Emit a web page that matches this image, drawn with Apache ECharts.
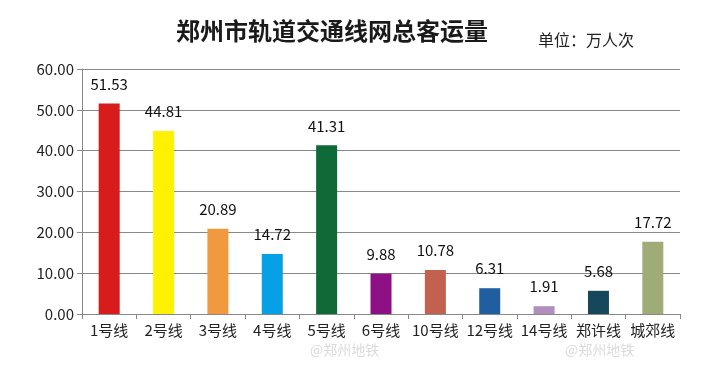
<!DOCTYPE html>
<html><head><meta charset="utf-8">
<script src="https://cdn.jsdelivr.net/npm/echarts@6/dist/echarts.min.js"></script>
<style>html,body{margin:0;padding:0;background:#fff}#c{width:703px;height:370px}</style>
</head><body><div id="c"></div>
<script>
var categories = ['1号线','2号线','3号线','4号线','5号线','6号线','10号线','12号线','14号线','郑许线','城郊线'];
var values = [51.53, 44.81, 20.89, 14.72, 41.31, 9.88, 10.78, 6.31, 1.91, 5.68, 17.72];
var colors = ['#D81B1B','#FFF200','#F0993E','#06A0E6','#0F6A38','#8D1185','#C2614F','#1F5EA0','#B18EBE','#17475A','#A0AC77'];
var yTicks = [0, 10, 20, 30, 40, 50, 60];

var chart = echarts.init(document.getElementById('c'), null, {renderer:'canvas'});
var font = '"Noto Sans CJK SC", "Noto Sans", sans-serif';
chart.setOption({
  animation: false,
  backgroundColor: '#fff',
  title: {
    text: '郑州市轨道交通线网总客运量',
    left: 327, top: 14, textAlign: 'center',
    textStyle: {fontFamily: '"Noto Sans CJK SC",sans-serif', fontSize: 24, fontWeight: 'bold', color: '#1a1a1a'}
  },
  graphic: [
    {type:'text', left: 538, top: 32, style:{text:'单位：万人次', font:'16px ' + font, fill:'#222'}},
    {type:'text', left: 310, top: 343, style:{text:'@郑州地铁', font:'14px ' + font, fill:'rgba(150,150,150,0.35)'}},
    {type:'text', left: 565, top: 343, style:{text:'@郑州地铁', font:'14px ' + font, fill:'rgba(150,150,150,0.35)'}}
  ],
  grid: {left: 82, right: 23, top: 69, bottom: 56},
  xAxis: {
    type: 'category', data: categories,
    axisLine: {lineStyle: {color: '#888'}},
    axisTick: {show: true, alignWithLabel: false, length: 5, lineStyle: {color: '#888'}},
    axisLabel: {fontFamily: font, fontSize: 15, color: '#222', margin: 9, interval: 0}
  },
  yAxis: {
    type: 'value', min: yTicks[0], max: yTicks[yTicks.length-1], interval: 10,
    axisLine: {show: true, lineStyle: {color: '#888'}},
    axisTick: {show: true, length: 5, lineStyle: {color: '#888'}},
    axisLabel: {fontFamily: font, fontSize: 15, color: '#222', margin: 8, formatter: function(v){return v.toFixed(2);}},
    splitLine: {lineStyle: {color: '#888', width: 1}}
  },
  series: [{
    type: 'bar', barWidth: 21,
    data: values.map(function(v, i){ return {value: v, itemStyle: {color: colors[i]}}; }),
    label: {show: true, position: 'top', distance: 12, fontFamily: font, fontSize: 15, color: '#111', formatter: function(p){return p.value.toFixed(2);}}
  }]
});
</script></body></html>
